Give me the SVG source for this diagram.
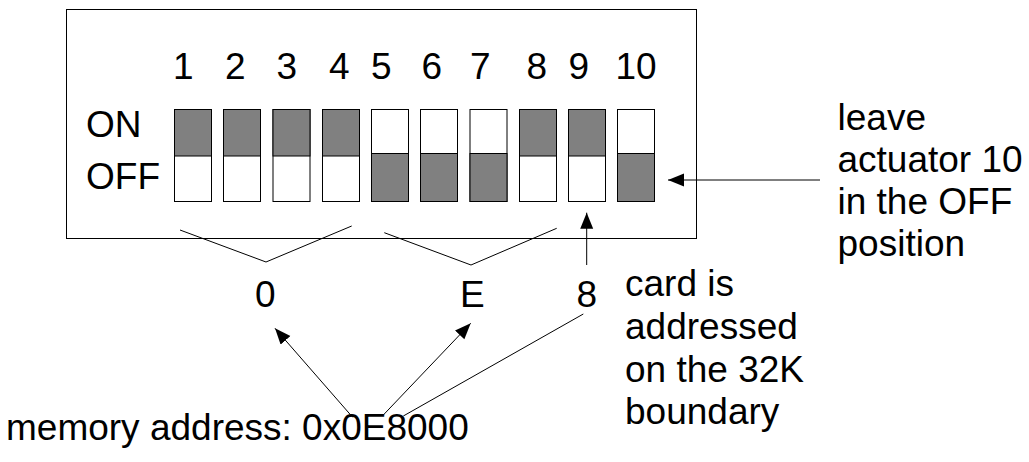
<svg xmlns="http://www.w3.org/2000/svg" width="1029" height="462" viewBox="0 0 1029 462">
<style>
text{font-family:"Liberation Sans",Arial,sans-serif;font-size:37px;fill:#000}
.sw{fill:#fff;stroke:#000;stroke-width:1}
.dk{fill:#808080;stroke:#000;stroke-width:1}
.ln{fill:none;stroke:#000;stroke-width:1}
</style>
<defs>
<marker id="ah" markerUnits="userSpaceOnUse" markerWidth="17" markerHeight="14" refX="16" refY="6.5" orient="auto">
<path d="M0,0 L16,6.5 L0,13 z" fill="#000"/>
</marker>
</defs>
<g id="board">
<rect x="66.5" y="9.5" width="630" height="229" fill="#fff" stroke="#000" stroke-width="1"/>
<text x="86" y="136.5">ON</text>
<text x="86" y="188.5">OFF</text>
<text x="173" y="78.5">1</text>
<text x="225" y="78.5">2</text>
<text x="276.5" y="78.5">3</text>
<text x="329" y="78.5">4</text>
<text x="371" y="78.5">5</text>
<text x="421.5" y="78.5">6</text>
<text x="470" y="78.5">7</text>
<text x="526.5" y="78.5">8</text>
<text x="568.5" y="78.5">9</text>
<text x="615.5" y="78.5">10</text>
</g>
<g id="sw1"><rect class="sw" x="174.5" y="109.5" width="37" height="92"/><rect class="dk" x="174.5" y="109.5" width="37" height="46.5"/></g>
<g id="sw2"><rect class="sw" x="223.5" y="109.5" width="37" height="92"/><rect class="dk" x="223.5" y="109.5" width="37" height="46.5"/></g>
<g id="sw3"><rect class="sw" x="273" y="109.5" width="37" height="92"/><rect class="dk" x="273" y="109.5" width="37" height="46.5"/></g>
<g id="sw4"><rect class="sw" x="322.5" y="109.5" width="37" height="92"/><rect class="dk" x="322.5" y="109.5" width="37" height="46.5"/></g>
<g id="sw5"><rect class="sw" x="371.5" y="109.5" width="37" height="92"/><rect class="dk" x="371.5" y="153.5" width="37" height="48"/></g>
<g id="sw6"><rect class="sw" x="420.5" y="109.5" width="37" height="92"/><rect class="dk" x="420.5" y="153.5" width="37" height="48"/></g>
<g id="sw7"><rect class="sw" x="470" y="109.5" width="37" height="92"/><rect class="dk" x="470" y="153.5" width="37" height="48"/></g>
<g id="sw8"><rect class="sw" x="519.5" y="109.5" width="37" height="92"/><rect class="dk" x="519.5" y="109.5" width="37" height="46.5"/></g>
<g id="sw9"><rect class="sw" x="568.5" y="109.5" width="37" height="92"/><rect class="dk" x="568.5" y="109.5" width="37" height="46.5"/></g>
<g id="sw10"><rect class="sw" x="617.5" y="109.5" width="37" height="92"/><rect class="dk" x="617.5" y="153.5" width="37" height="48"/></g>
<g id="labels">
<text x="255" y="306.5">0</text>
<text x="460" y="306.5">E</text>
<text x="576.5" y="306.5">8</text>
<text x="837.5" y="129.5">leave</text>
<text x="837.5" y="171.5">actuator 10</text>
<text x="837.5" y="213.5">in the OFF</text>
<text x="837.5" y="255.5">position</text>
<text x="625" y="296">card is</text>
<text x="625" y="339">addressed</text>
<text x="625" y="381.5">on the 32K</text>
<text x="625" y="423.5">boundary</text>
<text x="6" y="439.5">memory address: 0x0E8000</text>
</g>
<g id="connectors">
<polyline class="ln" points="180,230 266,262 351.7,226"/>
<polyline class="ln" points="384.3,232.7 471,265 556.7,228.3"/>
<line class="ln" x1="586.7" y1="265" x2="586.7" y2="212.7" marker-end="url(#ah)"/>
<line class="ln" x1="820" y1="180" x2="668" y2="180" marker-end="url(#ah)"/>
<line class="ln" x1="352.7" y1="417.3" x2="275" y2="328.3" marker-end="url(#ah)"/>
<line class="ln" x1="383.3" y1="415" x2="470.7" y2="323.3" marker-end="url(#ah)"/>
<line class="ln" x1="403.3" y1="416" x2="583.3" y2="314"/>
</g>
</svg>
